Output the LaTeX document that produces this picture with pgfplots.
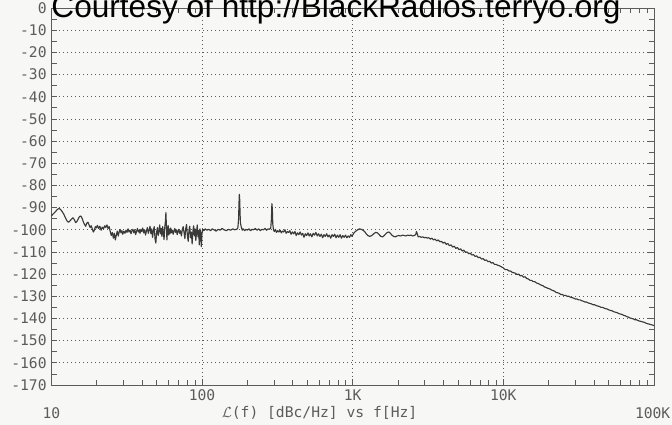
\documentclass[border=0pt]{standalone}
\usepackage{fontspec}
\setmainfont{Liberation Sans}
\newfontfamily\plotfont{DejaVu Sans Mono}
\usepackage{pgfplots}
\pgfplotsset{compat=1.18}
\usetikzlibrary{calc}
\definecolor{trace}{HTML}{3A3A3A}
\definecolor{ink}{HTML}{5C5C5C}
\definecolor{paper}{HTML}{F7F7F5}
\begin{document}
\begin{tikzpicture}
\useasboundingbox[fill=paper] (0,0) rectangle (504pt,318.75pt);
\begin{axis}[
  name=ax,
  at={(38.5pt,30pt)}, anchor=south west,
  scale only axis, width=452pt, height=282.75pt,
  xmode=log, log basis x=10, xmin=10, xmax=100000, ymin=-170, ymax=0,
  xtick={100,1000,10000}, xticklabels={100,1K,10K},
  minor xtick={20,30,40,50,60,70,80,90,200,300,400,500,600,700,800,900,2000,3000,4000,5000,6000,7000,8000,9000,20000,30000,40000,50000,60000,70000,80000,90000},
  ytick={-170,-160,...,0},
  minor ytick={-165,-155,...,-5},
  tick align=inside,
  major tick length=4.5pt, minor tick length=4pt,
  every tick/.style={ink, line width=0.5pt},
  axis line style={ink, line width=0.7pt},
  grid=major,
  major grid style={ink, line width=0.55pt, dash pattern=on 0.8pt off 2.2pt},
  tick label style={font=\plotfont\fontsize{11}{12}\selectfont, text=ink},
  /pgf/number format/assume math mode=true,
]
\addplot[trace, line width=0.85pt, line join=round] table[x=f, y=v] {
f v
10 -93.8
10.3 -92.8
10.6 -92.0
10.9 -91.0
11.2 -90.4
11.5 -90.8
11.8 -91.8
12.1 -93.0
12.4 -94.6
12.7 -96.0
13.0 -96.6
13.3 -96.0
13.6 -95.2
13.9 -94.6
14.2 -95.4
14.5 -96.8
14.8 -96.2
15.1 -95.0
15.4 -94.0
15.7 -93.8
16.0 -94.8
16.3 -96.4
16.6 -97.6
16.9 -98.4
17.2 -97.0
17.5 -96.6
17.8 -97.8
18.1 -99.0
18.4 -98.2
18.7 -99.6
19.0 -101.0
19.3 -100.2
19.6 -98.6
19.9 -99.2
20.2 -98.0
20.6 -99.4
21.0 -98.4
21.4 -100.2
21.8 -98.8
22.2 -99.6
22.6 -98.2
23.0 -99.0
23.4 -97.8
23.8 -99.4
24.2 -98.6
24.6 -100.8
25.0 -102.6
25.4 -101.2
25.8 -103.8
26.2 -101.6
26.6 -104.6
27.0 -102.4
27.4 -100.6
27.8 -102.8
28.2 -101.0
28.6 -99.8
29.0 -101.4
29.4 -100.4
29.8 -102.0
30.3 -100.6
30.8 -101.6
31.3 -100.2
31.8 -101.2
32.3 -99.6
32.8 -101.0
33.3 -100.2
33.8 -101.8
34.3 -100.4
34.8 -99.8
35.3 -101.4
35.8 -100.0
36.3 -102.2
36.8 -100.6
37.3 -99.4
37.8 -101.0
38.3 -100.2
38.8 -101.6
39.3 -99.8
39.8 -100.8
40.4 -99.2
41.0 -101.4
41.6 -100.0
42.2 -102.4
42.8 -100.4
43.4 -99.0
44.0 -101.6
44.6 -100.2
45.2 -98.4
45.8 -101.8
46.4 -99.6
47.0 -103.4
47.6 -100.2
48.2 -98.6
48.8 -104.2
49.4 -106.0
50.0 -101.0
50.6 -99.0
51.2 -102.6
51.8 -100.4
52.4 -97.8
53.0 -101.8
53.6 -99.4
54.2 -103.0
54.8 -98.6
55.4 -101.2
56.0 -104.4
56.6 -99.0
57.2 -96.0
57.6 -92.2
58.0 -97.6
58.5 -104.6
59.0 -100.2
59.6 -98.0
60.2 -102.4
60.8 -99.6
61.4 -101.8
62.0 -99.2
62.8 -101.4
63.6 -100.2
64.4 -102.0
65.2 -100.6
66.0 -99.4
66.8 -101.2
67.6 -100.0
68.4 -102.2
69.2 -100.8
70.0 -99.8
71.0 -101.6
72.0 -100.4
73.0 -102.8
74.0 -100.0
75.0 -98.6
76.0 -101.2
77.0 -104.0
78.0 -99.4
79.0 -97.6
80.0 -102.6
81.0 -105.2
82.0 -100.0
83.0 -98.4
84.0 -103.6
85.0 -101.0
86.0 -106.4
87.0 -100.6
88.0 -98.2
89.0 -102.8
90.0 -99.6
91.0 -104.8
92.0 -101.2
93.0 -97.8
94.0 -103.2
95.0 -100.4
96.0 -106.8
97.0 -99.6
98.0 -102.0
99.0 -107.6
100.0 -101.4
101 -99.8
103 -100.4
105 -99.6
108 -100.2
111 -99.8
114 -100.4
117 -99.6
120 -100.0
124 -100.6
128 -99.8
132 -100.2
136 -99.4
140 -100.0
145 -100.4
150 -99.8
155 -100.2
160 -99.6
165 -100.0
170 -99.8
173 -99.2
175 -95.0
176 -88.0
177 -84.0
178 -86.5
179 -93.0
180 -97.0
182 -98.6
185 -100.2
188 -99.6
192 -100.4
196 -99.8
200 -100.2
205 -99.6
210 -100.4
215 -99.8
220 -100.0
226 -99.4
232 -100.2
238 -99.6
244 -100.4
250 -99.8
256 -100.0
262 -99.4
268 -100.2
274 -99.6
280 -99.8
286 -99.2
289 -95.0
291 -88.2
293 -90.5
295 -97.4
298 -100.0
302 -100.8
307 -99.8
312 -101.2
318 -100.4
324 -101.0
330 -100.2
336 -101.4
342 -100.6
348 -101.0
355 -100.0
362 -101.6
369 -100.8
376 -101.2
383 -100.4
390 -102.0
398 -101.0
406 -101.8
414 -100.8
422 -102.6
430 -101.4
439 -102.2
448 -101.0
457 -102.4
466 -101.6
475 -103.4
485 -101.8
495 -102.6
505 -101.4
515 -102.8
525 -101.8
536 -103.2
547 -101.6
558 -102.4
570 -101.2
582 -102.8
594 -101.8
606 -103.0
619 -102.0
632 -103.6
645 -102.2
658 -103.0
672 -101.8
686 -103.2
700 -102.4
715 -103.8
730 -102.2
745 -103.0
760 -102.0
776 -103.6
792 -102.4
808 -103.4
825 -102.2
842 -103.8
860 -102.6
878 -103.4
896 -102.4
915 -103.6
934 -102.8
953 -103.4
972 -102.2
991 -103.0
1000 -102.4
1020 -101.4
1050 -100.6
1080 -100.0
1110 -99.6
1140 -99.8
1170 -100.2
1200 -100.8
1230 -101.8
1260 -102.6
1300 -103.0
1340 -102.6
1380 -101.8
1420 -101.2
1460 -101.4
1500 -102.2
1540 -103.0
1580 -103.2
1620 -102.6
1660 -101.8
1700 -101.2
1740 -101.0
1780 -101.6
1820 -102.4
1870 -103.0
1920 -103.2
1970 -102.8
2020 -102.6
2080 -102.8
2140 -102.4
2200 -102.6
2260 -102.8
2320 -102.4
2380 -102.6
2440 -102.4
2500 -102.8
2560 -102.6
2620 -102.2
2650 -100.8
2680 -101.6
2720 -103.2
2780 -103.0
2850 -103.4
2920 -103.2
2990 -103.6
3060 -103.4
3130 -103.8
3200 -103.6
3280 -104.2
3360 -103.8
3440 -104.6
3520 -104.2
3610 -105.0
3700 -104.6
3790 -105.4
3880 -105.2
3980 -106.0
4080 -105.6
4180 -106.6
4280 -106.2
4390 -107.2
4500 -106.8
4610 -107.8
4720 -107.4
4840 -108.4
4960 -108.0
5080 -109.0
5210 -108.6
5340 -109.6
5470 -109.2
5610 -110.2
5750 -110.0
5890 -110.8
6040 -110.6
6190 -111.4
6340 -111.2
6500 -112.0
6660 -111.8
6830 -112.6
7000 -112.4
7170 -113.2
7350 -113.0
7530 -113.8
7720 -113.6
7910 -114.4
8110 -114.2
8310 -115.0
8520 -114.8
8730 -115.6
8950 -115.6
9170 -116.0
9400 -116.2
9640 -116.6
9880 -117.0
10000 -117.2
10120 -117.6
10370 -118.0
10630 -118.0
10900 -118.6
11170 -118.6
11450 -119.2
11740 -119.4
12030 -119.6
12330 -120.2
12640 -120.0
12960 -120.8
13280 -120.6
13610 -121.4
13950 -121.2
14300 -122.0
14660 -122.2
15030 -122.8
15400 -122.8
15790 -123.4
16180 -123.4
16590 -124.0
17000 -124.2
17430 -124.6
17860 -125.0
18310 -125.2
18770 -125.8
19240 -126.0
19720 -126.4
20210 -126.6
20720 -127.0
21240 -127.4
21770 -127.6
22310 -128.2
22870 -128.4
23440 -128.6
24030 -129.2
24630 -129.2
25240 -129.6
25870 -129.6
26520 -130.0
27180 -130.0
27860 -130.4
28560 -130.6
29270 -130.8
30000 -131.2
30750 -131.2
31520 -131.6
32310 -131.6
33120 -132.0
33940 -132.2
34790 -132.6
35660 -132.6
36550 -133.0
37470 -133.2
38400 -133.4
39360 -133.8
40350 -133.8
41360 -134.2
42390 -134.4
43450 -134.6
44540 -135.0
45650 -135.0
46790 -135.4
47960 -135.6
49160 -135.8
50390 -136.2
51650 -136.4
52940 -136.6
54260 -137.0
55620 -137.2
57010 -137.4
58440 -137.8
59900 -138.0
61400 -138.2
62930 -138.6
64500 -138.8
66120 -139.2
67770 -139.4
69470 -139.8
71200 -140.0
72980 -140.2
74810 -140.6
76680 -140.6
78600 -141.0
80560 -141.2
82570 -141.4
84640 -141.6
86760 -141.8
88930 -142.2
91150 -142.4
93430 -142.6
95760 -142.8
98150 -143.0
100000 -143.2
};
\end{axis}
\node[font=\plotfont\fontsize{11}{12}\selectfont, text=ink] at ($(ax.south west)+(0pt,-21pt)$) {10};
\node[font=\plotfont\fontsize{11}{12}\selectfont, text=ink] at ($(ax.south east)+(-1pt,-21pt)$) {100K};
\node[font=\plotfont\fontsize{11}{12}\selectfont, text=ink] at ($(ax.south west)!0.445!(ax.south east)+(0pt,-21pt)$) {$\mathcal{L}$(f) [dBc/Hz] vs f[Hz]};
\node[anchor=base, font=\fontsize{23.7}{28}\selectfont, text=black] at (252pt,305.25pt) {Courtesy of http://BlackRadios.terryo.org};
\end{tikzpicture}
\end{document}
